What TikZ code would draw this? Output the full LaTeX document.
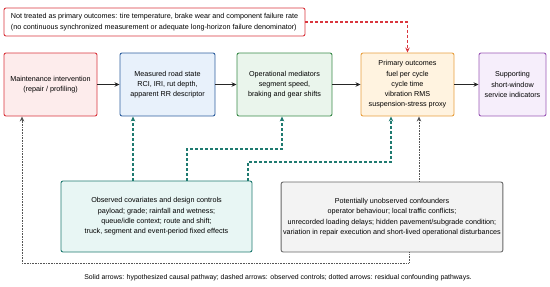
\documentclass[tikz,border=0pt]{standalone}
\usepackage{fontspec}
\setmainfont{Liberation Sans}
\usepackage{tikz}
\usetikzlibrary{arrows.meta, positioning}

\definecolor{redline}{HTML}{D9363E}
\definecolor{redfill}{HTML}{FDECEC}
\definecolor{blueline}{HTML}{2F5F9E}
\definecolor{bluefill}{HTML}{E8F1FB}
\definecolor{greenline}{HTML}{3A8A4A}
\definecolor{greenfill}{HTML}{EAF5EC}
\definecolor{orangeline}{HTML}{E8A040}
\definecolor{orangefill}{HTML}{FFF3E0}
\definecolor{purpleline}{HTML}{9B59B6}
\definecolor{purplefill}{HTML}{F6EEFB}
\definecolor{tealline}{HTML}{1F7A70}
\definecolor{tealfill}{HTML}{E8F6F4}
\definecolor{grayline}{HTML}{666666}
\definecolor{grayfill}{HTML}{F3F3F3}
\definecolor{dotline}{HTML}{555555}

\begin{document}
\begin{tikzpicture}[
    x=1pt, y=-1pt,
    box/.style={rectangle, draw, line width=0.9pt, rounded corners=2pt, align=center,
                font=\fontsize{7.2}{10.3}\selectfont, inner sep=2pt},
    causal/.style={-{Stealth[length=5pt,width=4.5pt]}, line width=1.1pt, black!85},
    control/.style={-{Stealth[length=5pt,width=4.5pt]}, line width=1.3pt, tealline,
                    dash pattern=on 3pt off 2pt},
    residual/.style={-{Stealth[length=5pt,width=4.5pt]}, line width=0.9pt, dotline,
                     dash pattern=on 0.8pt off 0.8pt},
    excluded/.style={-{Stealth[length=5pt,width=4.5pt]}, line width=1.2pt, redline,
                     dash pattern=on 3pt off 2pt}
]
\useasboundingbox (0,0) rectangle (550,287);

% top note
\node[box, draw=redline, fill=white, minimum width=301pt, minimum height=28pt, align=left]
    (excl) at (154.5,22) {Not treated as primary outcomes: tire temperature, brake wear and component failure rate\\
    (no continuous synchronized measurement or adequate long-horizon failure denominator)};

% main pathway
\node[box, draw=redline, fill=redfill, minimum width=93pt, minimum height=63pt]
    (maint) at (50.5,84.5) {Maintenance intervention\\(repair / profiling)};
\node[box, draw=blueline, fill=bluefill, minimum width=95pt, minimum height=63pt]
    (road) at (167.5,84.5) {Measured road state\\RCI, IRI, rut depth,\\apparent RR descriptor};
\node[box, draw=greenline, fill=greenfill, minimum width=95pt, minimum height=63pt]
    (med) at (284.5,84.5) {Operational mediators\\segment speed,\\braking and gear shifts};
\node[box, draw=orangeline, fill=orangefill, minimum width=93pt, minimum height=63pt]
    (prim) at (407.5,84.5) {Primary outcomes\\fuel per cycle\\cycle time\\vibration RMS\\suspension-stress proxy};
\node[box, draw=purpleline, fill=purplefill, minimum width=67pt, minimum height=63pt]
    (supp) at (512.5,84.5) {Supporting\\short-window\\service indicators};

% covariates and confounders
\node[box, draw=tealline, fill=tealfill, minimum width=191pt, minimum height=71pt]
    (obs) at (156.5,216.5) {Observed covariates and design controls\\payload; grade; rainfall and wetness;\\
    queue/idle context; route and shift;\\truck, segment and event-period fixed effects};
\node[box, draw=grayline, fill=grayfill, minimum width=218pt, minimum height=70pt]
    (unobs) at (392,217) {Potentially unobserved confounders\\operator behaviour; local traffic conflicts;\\
    unrecorded loading delays; hidden pavement/subgrade condition;\\
    variation in repair execution and short-lived operational disturbances};

\node[font=\fontsize{6.9}{9}\selectfont] (note) at (278,278)
    {Solid arrows: hypothesized causal pathway; dashed arrows: observed controls; dotted arrows: residual confounding pathways.};

\foreach \from/\to in {maint/road, road/med, med/prim, prim/supp}
    \draw[causal] (\from) -- (\to);

\draw[excluded] (excl.east) -| (prim.north);

\draw[control] ([xshift=-23.5pt]obs.north) -- ([xshift=-34.5pt]road.south);
\draw[control] ([xshift=30.5pt]obs.north) |- (282,149) -- ([xshift=-2.5pt]med.south);
\draw[control] ([xshift=91.5pt]obs.north) |- (391,162) -- ([xshift=-16.5pt]prim.south);

\draw[residual] ([xshift=27pt]unobs.north) -- ([xshift=11.5pt]prim.south);
\coordinate (corner) at (22,263);
\draw[residual] ([xshift=17pt]unobs.south) |- (corner) -- (maint.south -| corner);
\end{tikzpicture}
\end{document}
